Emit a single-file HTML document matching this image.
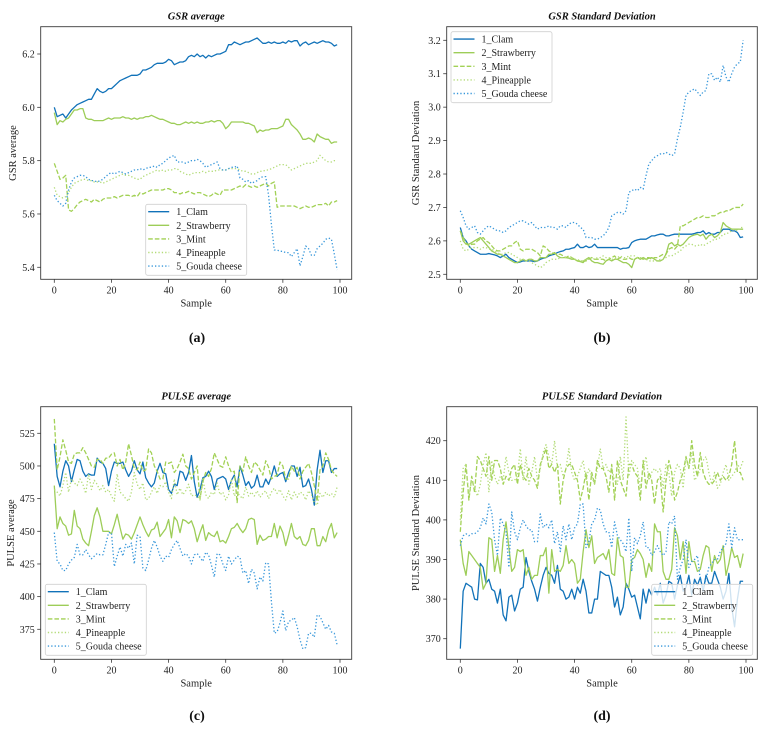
<!DOCTYPE html>
<html><head><meta charset="utf-8">
<style>
body{margin:0;background:#fff;}
svg{display:block;font-family:"Liberation Serif",serif;}
</style></head>
<body>
<svg id="fig" width="771" height="740" viewBox="0 0 771 740"></svg>
<script>
const NS="http://www.w3.org/2000/svg";
const seriesNames=["1_Clam","2_Strawberry","3_Mint","4_Pineapple","5_Gouda cheese"];
const xTicks=[0,20,40,60,80,100];

const gsrAvgClam=[6.000,5.965,5.970,5.975,5.960,5.975,5.990,6.000,6.010,6.015,6.020,6.025,6.030,6.030,6.050,6.070,6.060,6.055,6.060,6.070,6.070,6.080,6.090,6.100,6.105,6.110,6.115,6.120,6.120,6.120,6.125,6.140,6.140,6.145,6.150,6.160,6.165,6.165,6.165,6.170,6.180,6.175,6.160,6.165,6.170,6.170,6.175,6.190,6.195,6.190,6.200,6.190,6.195,6.185,6.195,6.190,6.195,6.200,6.200,6.205,6.210,6.235,6.235,6.245,6.240,6.235,6.240,6.245,6.245,6.250,6.255,6.260,6.250,6.240,6.240,6.245,6.240,6.245,6.240,6.240,6.245,6.240,6.250,6.245,6.250,6.250,6.230,6.240,6.245,6.235,6.240,6.245,6.240,6.245,6.250,6.245,6.245,6.240,6.230,6.235];
const gsrAvgStraw=[5.980,5.935,5.950,5.945,5.955,5.960,5.975,5.990,5.990,5.995,5.995,5.960,5.955,5.955,5.950,5.950,5.950,5.950,5.955,5.960,5.955,5.960,5.960,5.960,5.965,5.960,5.960,5.955,5.960,5.955,5.960,5.960,5.965,5.965,5.970,5.965,5.960,5.955,5.955,5.950,5.945,5.940,5.940,5.935,5.935,5.940,5.945,5.940,5.945,5.940,5.945,5.940,5.940,5.945,5.945,5.950,5.945,5.950,5.950,5.940,5.920,5.930,5.945,5.945,5.945,5.945,5.945,5.940,5.940,5.935,5.930,5.905,5.915,5.910,5.915,5.915,5.920,5.920,5.920,5.925,5.930,5.955,5.955,5.935,5.925,5.915,5.900,5.880,5.880,5.885,5.880,5.870,5.900,5.890,5.885,5.880,5.880,5.865,5.870,5.870];
const gsrAvgMint=[5.790,5.760,5.730,5.735,5.745,5.615,5.610,5.620,5.635,5.645,5.650,5.655,5.650,5.645,5.655,5.650,5.645,5.655,5.660,5.660,5.660,5.665,5.660,5.665,5.670,5.670,5.670,5.665,5.670,5.665,5.680,5.675,5.680,5.685,5.690,5.690,5.690,5.690,5.690,5.695,5.695,5.690,5.680,5.680,5.675,5.680,5.680,5.685,5.680,5.675,5.680,5.680,5.675,5.670,5.665,5.670,5.680,5.675,5.670,5.690,5.690,5.690,5.690,5.695,5.700,5.705,5.700,5.710,5.705,5.700,5.705,5.700,5.705,5.710,5.715,5.705,5.715,5.720,5.625,5.630,5.630,5.630,5.630,5.630,5.630,5.625,5.620,5.625,5.630,5.625,5.625,5.630,5.635,5.635,5.635,5.640,5.630,5.645,5.645,5.650];
const gsrAvgPine=[5.700,5.670,5.665,5.660,5.665,5.680,5.700,5.715,5.720,5.725,5.730,5.730,5.725,5.725,5.720,5.720,5.720,5.715,5.720,5.725,5.730,5.735,5.740,5.745,5.750,5.745,5.745,5.740,5.735,5.730,5.730,5.740,5.745,5.750,5.755,5.760,5.765,5.760,5.765,5.760,5.765,5.765,5.770,5.770,5.760,5.755,5.750,5.745,5.750,5.755,5.755,5.755,5.760,5.755,5.760,5.760,5.760,5.765,5.765,5.765,5.765,5.770,5.770,5.770,5.770,5.765,5.760,5.760,5.755,5.750,5.750,5.755,5.760,5.760,5.765,5.765,5.770,5.775,5.780,5.785,5.785,5.785,5.775,5.765,5.770,5.775,5.780,5.785,5.790,5.790,5.790,5.795,5.800,5.820,5.810,5.800,5.795,5.795,5.800,5.800];
const gsrAvgGouda=[5.670,5.650,5.640,5.630,5.640,5.690,5.720,5.735,5.740,5.745,5.745,5.740,5.730,5.725,5.725,5.720,5.725,5.730,5.740,5.750,5.755,5.750,5.755,5.760,5.755,5.750,5.755,5.760,5.765,5.765,5.770,5.765,5.770,5.775,5.775,5.780,5.775,5.785,5.790,5.800,5.810,5.815,5.820,5.795,5.795,5.795,5.790,5.795,5.800,5.800,5.805,5.800,5.790,5.775,5.780,5.785,5.790,5.795,5.770,5.765,5.765,5.770,5.775,5.775,5.780,5.735,5.730,5.720,5.725,5.715,5.720,5.725,5.735,5.740,5.740,5.670,5.560,5.465,5.465,5.460,5.460,5.455,5.455,5.440,5.455,5.470,5.405,5.440,5.480,5.470,5.445,5.445,5.470,5.480,5.490,5.505,5.510,5.505,5.450,5.390];

const gsrSdClam=[2.640,2.610,2.600,2.585,2.575,2.570,2.565,2.560,2.560,2.560,2.562,2.560,2.558,2.555,2.550,2.555,2.560,2.550,2.545,2.540,2.535,2.537,2.540,2.540,2.540,2.540,2.538,2.540,2.545,2.548,2.550,2.555,2.558,2.560,2.565,2.568,2.570,2.575,2.575,2.578,2.580,2.590,2.580,2.580,2.585,2.580,2.582,2.590,2.580,2.580,2.580,2.580,2.580,2.580,2.580,2.580,2.575,2.578,2.578,2.580,2.595,2.600,2.603,2.605,2.605,2.605,2.610,2.615,2.615,2.618,2.620,2.620,2.615,2.615,2.618,2.620,2.620,2.620,2.620,2.620,2.620,2.620,2.622,2.625,2.625,2.630,2.620,2.625,2.620,2.620,2.625,2.625,2.635,2.635,2.635,2.630,2.630,2.625,2.610,2.612];
const gsrSdStraw=[2.630,2.600,2.590,2.590,2.595,2.600,2.605,2.610,2.600,2.590,2.580,2.570,2.565,2.560,2.560,2.555,2.550,2.545,2.540,2.535,2.535,2.540,2.545,2.540,2.545,2.545,2.540,2.540,2.550,2.550,2.550,2.560,2.560,2.565,2.555,2.550,2.550,2.550,2.548,2.545,2.545,2.540,2.538,2.535,2.545,2.550,2.540,2.535,2.535,2.532,2.530,2.540,2.545,2.540,2.545,2.545,2.540,2.535,2.535,2.530,2.520,2.545,2.550,2.545,2.550,2.545,2.548,2.550,2.545,2.540,2.540,2.545,2.560,2.590,2.595,2.585,2.590,2.585,2.590,2.600,2.610,2.615,2.618,2.620,2.615,2.620,2.605,2.615,2.620,2.610,2.615,2.625,2.655,2.645,2.640,2.635,2.635,2.635,2.635,2.635];
const gsrSdMint=[2.630,2.610,2.595,2.585,2.590,2.590,2.600,2.605,2.610,2.600,2.595,2.585,2.575,2.570,2.570,2.575,2.580,2.585,2.585,2.595,2.600,2.575,2.570,2.575,2.575,2.575,2.570,2.565,2.555,2.585,2.580,2.570,2.565,2.562,2.560,2.560,2.555,2.550,2.555,2.550,2.545,2.540,2.540,2.540,2.540,2.545,2.550,2.545,2.545,2.545,2.545,2.540,2.545,2.550,2.555,2.545,2.550,2.545,2.545,2.550,2.545,2.545,2.550,2.550,2.545,2.550,2.550,2.545,2.550,2.550,2.555,2.560,2.560,2.575,2.580,2.575,2.585,2.645,2.645,2.650,2.655,2.660,2.665,2.670,2.670,2.675,2.670,2.670,2.675,2.675,2.680,2.685,2.685,2.690,2.690,2.695,2.700,2.700,2.700,2.710];
const gsrSdPine=[2.600,2.575,2.570,2.575,2.580,2.580,2.580,2.575,2.580,2.580,2.575,2.575,2.570,2.565,2.560,2.560,2.565,2.565,2.560,2.555,2.550,2.545,2.545,2.540,2.540,2.535,2.530,2.525,2.520,2.525,2.535,2.540,2.545,2.545,2.545,2.550,2.550,2.550,2.550,2.550,2.545,2.545,2.540,2.540,2.545,2.545,2.550,2.545,2.550,2.550,2.555,2.550,2.550,2.545,2.545,2.550,2.555,2.550,2.550,2.555,2.555,2.555,2.550,2.550,2.545,2.545,2.540,2.540,2.540,2.540,2.545,2.545,2.550,2.555,2.555,2.560,2.565,2.570,2.580,2.585,2.590,2.590,2.585,2.585,2.590,2.585,2.590,2.595,2.600,2.605,2.605,2.610,2.620,2.620,2.625,2.630,2.635,2.630,2.640,2.640];
const gsrSdGouda=[2.690,2.670,2.645,2.635,2.640,2.645,2.625,2.620,2.630,2.640,2.645,2.640,2.635,2.630,2.630,2.625,2.630,2.640,2.645,2.650,2.655,2.660,2.660,2.655,2.650,2.655,2.645,2.635,2.640,2.640,2.640,2.645,2.640,2.640,2.635,2.645,2.645,2.640,2.650,2.655,2.655,2.650,2.640,2.635,2.610,2.610,2.610,2.605,2.605,2.610,2.615,2.625,2.640,2.675,2.680,2.685,2.685,2.680,2.690,2.745,2.750,2.755,2.750,2.760,2.755,2.795,2.830,2.840,2.850,2.855,2.860,2.860,2.865,2.860,2.855,2.860,2.905,2.940,2.985,3.035,3.045,3.050,3.055,3.045,3.035,3.045,3.050,3.100,3.100,3.080,3.090,3.075,3.125,3.090,3.075,3.100,3.120,3.130,3.135,3.200];

const pulseAvgClam=[517,492,484,496,504,500,488,497,505,504,496,492,494,493,493,506,503,502,498,485,496,503,502,502,503,497,492,496,504,497,494,503,491,487,484,487,496,502,495,494,482,479,486,485,496,495,489,495,508,488,476,482,491,492,496,492,482,490,491,492,490,482,489,493,484,500,493,485,488,483,485,493,484,484,490,486,492,500,492,494,495,488,495,500,500,492,499,484,485,490,482,470,497,512,495,504,504,495,498,498];
const pulseAvgStraw=[485,452,461,456,454,447,448,466,454,452,444,441,439,450,462,468,461,450,450,450,448,455,463,453,444,448,447,444,449,455,461,455,450,446,451,452,457,446,449,452,459,445,461,458,449,459,458,456,458,452,442,449,455,443,449,447,446,450,442,443,441,446,452,453,456,452,449,452,459,460,459,440,447,443,444,446,446,456,445,454,449,439,447,456,446,444,446,440,439,443,452,452,439,439,446,442,451,456,445,449];
const pulseAvgMint=[536,497,507,520,512,503,502,509,510,510,514,510,505,500,499,505,505,502,506,506,509,510,500,505,497,503,517,508,498,497,503,496,497,513,510,500,496,490,490,503,502,503,495,498,503,509,500,498,490,495,500,475,488,495,492,498,510,505,500,499,507,500,495,496,472,500,496,507,500,495,503,501,497,493,504,499,490,492,493,503,500,490,490,500,496,499,490,496,499,502,495,485,473,497,500,510,505,497,494,492];
const pulseAvgPine=[482,480,477,485,495,480,490,487,485,490,486,479,494,482,489,486,481,485,480,482,477,473,494,480,478,475,473,480,495,486,482,487,474,475,480,484,479,485,484,488,480,475,490,478,483,478,481,486,477,478,477,474,490,478,475,480,478,487,478,480,474,478,490,477,480,477,475,484,477,480,477,481,476,479,481,475,480,483,479,482,477,474,481,474,480,476,480,479,474,481,478,472,470,479,476,480,477,479,476,484];
const pulseAvgGouda=[449,427,425,420,420,425,428,430,440,432,432,436,432,429,431,433,432,432,440,449,449,423,431,438,431,440,437,441,425,447,446,422,420,428,437,443,438,431,427,431,430,436,440,443,437,431,433,431,425,432,433,430,427,434,432,424,415,433,432,425,420,431,425,428,431,430,418,420,410,421,418,406,415,412,426,425,396,372,373,380,389,374,381,382,384,377,367,360,361,372,372,369,386,385,380,375,378,373,372,363];

const pulseSdClam=[367.5,382,384,383.5,383,380,379.8,389,388,384,385,382.5,382,379,382.5,376,374.5,380.5,381,377,379,382.5,383,390.5,387,384.5,382.5,379.5,383,386,388,386.5,386,384,388.5,382.5,382,380,380.5,382.5,380,383,381.5,385,382,376.5,376.5,380,380,387,386.5,386,386,383,378,380.5,376,378,384,382.5,380.5,381,378,375,382.5,379,382.5,381,383,381,384,379,381,384.5,384,380,383.5,386,382,383,386,381,385,383.5,385.5,382,386,384,384,387,385,383,380,382,386.5,378,373,380,384.5,384.5];
const pulseSdStraw=[395,389,386,392,391,390,389,388,382.5,384,395.5,395,387,391,386.5,395,399.5,393,387,388,392.5,392,392.5,386,388,385,386,386,391,391,393,381.5,392.5,387,387.5,387,388.5,393.5,389,390,389,384,385,392,397.5,393,396,389,390.5,391,391.5,390,392.5,386.5,386,395.5,391,390.5,383,383,390,390.5,392.5,391.5,390,385.5,389,387,399,397,397,387,385,385,387.5,398,396,390,394.5,386.5,394.5,389.5,389.5,387,387.5,391,393.5,393,387,391,389,390,393.5,386,389,393,390.5,391,388,391.5];
const pulseSdMint=[397,407,414,405,411,407,416,415,413,411,416,410,415,415,413,409,411,410,413,414,409,414,411,410,413,411,410,408,414,416,418,413,414,412,414,404,410,413,414,414,412,410,405,408,412,405,412,409,415,413,413,411,407,414,405,415,410,408,406,414,414,412,411,405,415,408,412,410,404,410,411,402,410,415,412,405,407,410,412,416,413,420,414,411,417,412,410,409,409,410,412,410,411,410,411,414,420,412,412,410];
const pulseSdPine=[400,413,414,406,410,408,406,409,414,417,407,415,411,409,411,410,416,412,410,410,411,418,410,416,409,412,416,410,413,417,419,416,414,420,413,414,411,413,418,412,410,411,413,415,410,413,411,409,413,418,413,414,412,413,410,409,416,410,426,411,415,414,413,408,413,416,410,412,413,412,413,408,414,412,406,412,414,413,408,416,413,417,410,411,413,415,416,412,409,412,408,409,412,414,410,411,412,414,413,415];
const pulseSdGouda=[393.5,396,396.5,396,396.5,396.5,397,398,400.5,399,404,402,395,391,400.5,399,397,388,402,397,395,398,400,398.5,397.5,397.5,394.5,394.5,401.5,398,399,398,400,394,397,392,398.5,395,399,395,398,399,404,404,393,394.5,399,400,403,402.5,399,397,397,393,399.5,396,395,394,392,400.5,387,395.5,394,396,399.5,393,393,391,392,393.5,392,391,392,399.5,399,401,385,388,390,395,388,389.5,390,391,385,382.5,385,388,389,390,390,392,393,394,399,393,398,395,395,395];

const gsrAvgTicks=[5.4,5.6,5.8,6.0,6.2];
const gsrSdTicks=[2.5,2.6,2.7,2.8,2.9,3.0,3.1,3.2];
const pulseAvgTicks=[375,400,425,450,475,500,525];
const pulseSdTicks=[370,380,390,400,410,420];

const BLUE="#1172b9", GOUDA="#3797da", G1="#9dcd58", G2="#a2d155", G3="#b3dc78";
const styles=[
 {c:BLUE,d:null,w:1.3},{c:G1,d:null,w:1.3},{c:G2,d:"4.6,2",w:1.3},{c:G3,d:"1.3,2.1",w:1.3},{c:GOUDA,d:"1.3,2.1",w:1.3}];

const svg=document.getElementById('fig');
function mk(tag,attrs,parent){const e=document.createElementNS(NS,tag);for(const k in attrs)e.setAttribute(k,attrs[k]);(parent||svg).appendChild(e);return e;}

function panel(p){
  const g=mk('g',{});
  
  
  const L=p.L,R=p.R,T=p.T,B=p.B;
  const xs=v=>p.x0+(v-0)*(p.x100-p.x0)/100;
  const ys=v=>p.ya+(v-p.va)*(p.yb-p.ya)/(p.vb-p.va);
  // series
  p.data.forEach((arr,si)=>{
    const st=styles[si];
    const d=arr.map((v,i)=>(i?'L':'M')+xs(i).toFixed(2)+' '+ys(v).toFixed(2)).join(' ');
    const path=mk('path',{d:d,fill:'none',stroke:st.c,'stroke-width':st.w,'stroke-linejoin':'round'},g);
    if(st.d)path.setAttribute('stroke-dasharray',st.d);
    
    
  });
  // frame
  const fr=mk('rect',{x:L,y:T,width:R-L,height:B-T,fill:'none',stroke:'#3a3a3a','stroke-width':0.9},g);
  
  
  // x ticks
  xTicks.forEach(t=>{
    const x=xs(t);
    mk('line',{x1:x,x2:x,y1:B,y2:B+3.5,stroke:'#3a3a3a','stroke-width':0.8},g);
    const tx=mk('text',{x:x,y:B+14,'font-size':10,'text-anchor':'middle',fill:'#222'},g);
    tx.textContent=t;
    
    
  });
  p.yt.forEach(t=>{
    const y=ys(t);
    mk('line',{x1:L-3.5,x2:L,y1:y,y2:y,stroke:'#3a3a3a','stroke-width':0.8},g);
    const tx=mk('text',{x:L-6,y:y+3.5,'font-size':10,'text-anchor':'end',fill:'#222'},g);
    tx.textContent=p.fmt(t);
    
    
  });
  const ttl=mk('text',{x:(L+R)/2,y:T-7,'font-size':10.5,'font-weight':'bold','font-style':'italic','text-anchor':'middle',fill:'#111'},g);
  ttl.textContent=p.title;
  
  
  const xl=mk('text',{x:(L+R)/2,y:B+27,'font-size':10.5,'text-anchor':'middle',fill:'#222'},g);
  xl.textContent='Sample';
  
  
  const yc=(T+B)/2;
  const yl=mk('text',{x:p.ylx,y:yc,'font-size':10.5,'text-anchor':'middle',fill:'#222',transform:`rotate(-90 ${p.ylx} ${yc})`},g);
  yl.textContent=p.ylabel;
  
  
  // legend
  const lg=mk('g',{},g);
  
  
  mk('rect',{x:p.lx,y:p.ly,width:101,height:71,rx:2,fill:'#fff','fill-opacity':0.8,stroke:'#d0d0d0','stroke-width':0.8},lg);
  seriesNames.forEach((n,i)=>{
    const y=p.ly+7.4+i*13.6;
    const st=styles[i];
    const ln=mk('line',{x1:p.lx+2.5,x2:p.lx+23.5,y1:y,y2:y,stroke:st.c,'stroke-width':1.4},lg);
    if(st.d)ln.setAttribute('stroke-dasharray',st.d);
    const tx=mk('text',{x:p.lx+30.5,y:y+3.5,'font-size':10,fill:'#222'},lg);
    tx.textContent=n;
    
    
  });
  const cap=mk('text',{x:p.capx,y:p.capy,'font-size':14,'font-weight':'bold','text-anchor':'middle',fill:'#111'},g);
  cap.textContent=p.cap;
  
  
}

panel({id:'panel-gsr-average',L:40.7,R:351.7,T:26.7,B:279.3,x0:54.3,x100:340,ya:54,va:6.2,yb:267.3,vb:5.4,
  yt:gsrAvgTicks,fmt:v=>v.toFixed(1),title:'GSR average',ylabel:'GSR average',ylx:16,
  data:[gsrAvgClam,gsrAvgStraw,gsrAvgMint,gsrAvgPine,gsrAvgGouda],lx:145.7,ly:204.3,cap:'(a)',capx:197,capy:342});
panel({id:'panel-gsr-std',L:446.7,R:757.3,T:26.7,B:279.3,x0:460.3,x100:746,ya:40.3,va:3.2,yb:274.3,vb:2.5,
  yt:gsrSdTicks,fmt:v=>v.toFixed(1),title:'GSR Standard Deviation',ylabel:'GSR Standard Deviation',ylx:419,
  data:[gsrSdClam,gsrSdStraw,gsrSdMint,gsrSdPine,gsrSdGouda],lx:451,ly:31.7,cap:'(b)',capx:602,capy:342});
panel({id:'panel-pulse-average',L:40.7,R:351.7,T:406.7,B:659.3,x0:54.3,x100:340,ya:433.3,va:525,yb:629.3,vb:375,
  yt:pulseAvgTicks,fmt:v=>String(v),title:'PULSE average',ylabel:'PULSE average',ylx:14,
  data:[pulseAvgClam,pulseAvgStraw,pulseAvgMint,pulseAvgPine,pulseAvgGouda],lx:45.3,ly:584.3,cap:'(c)',capx:197,capy:720});
panel({id:'panel-pulse-std',L:446.7,R:757.3,T:406.7,B:659.3,x0:460.3,x100:746,ya:440.7,va:420,yb:638.7,vb:370,
  yt:pulseSdTicks,fmt:v=>String(v),title:'PULSE Standard Deviation',ylabel:'PULSE Standard Deviation',ylx:419,
  data:[pulseSdClam,pulseSdStraw,pulseSdMint,pulseSdPine,pulseSdGouda],lx:651.7,ly:584.3,cap:'(d)',capx:602,capy:720});
</script>
</body></html>
